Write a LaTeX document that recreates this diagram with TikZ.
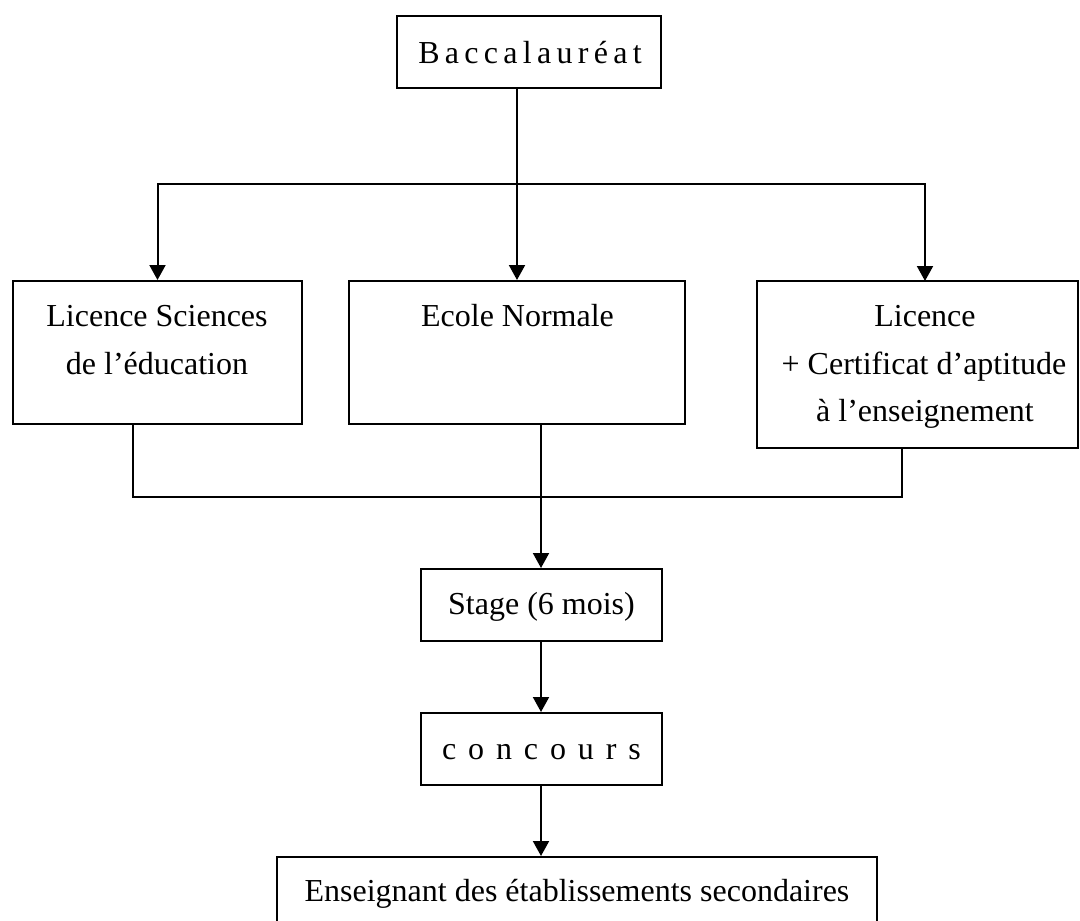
\documentclass[tikz,border=0pt]{standalone}
\usepackage{fontspec}
\setmainfont{Liberation Serif}
\usetikzlibrary{arrows.meta}
\newcommand\gapB{\hspace{5.3pt}}
\newcommand\gapC{\hspace{11.9pt}}
\begin{document}
\begin{tikzpicture}[x=1pt,y=-1pt,
  box/.style={draw, line width=2pt, inner sep=0pt},
  txt/.style={anchor=base, inner sep=0pt, font=\fontsize{32pt}{48pt}\selectfont},
  conn/.style={line width=2pt},
  arr/.style={line width=2pt, -{Triangle[length=15pt,width=16pt]}}]
\useasboundingbox (0,0) rectangle (1080,921);
\clip (0,0) rectangle (1080,921);
\fill[white] (0,0) rectangle (1080,921);

% boxes
\node[box, minimum width=264pt, minimum height=72pt] (bac) at (529,52) {};
\node[box, minimum width=289pt, minimum height=143pt] (lic) at (157.5,352.5) {};
\node[box, minimum width=336pt, minimum height=143pt] (ecole) at (517,352.5) {};
\node[box, minimum width=321pt, minimum height=167pt] (cert) at (917.5,364.5) {};
\node[box, minimum width=241pt, minimum height=72pt] (stage) at (541.5,605) {};
\node[box, minimum width=241pt, minimum height=72pt] (conc) at (541.5,749) {};
\node[box, minimum width=600pt, minimum height=103pt] (ens) at (577,908.5) {};

% texts
\node[txt] (bact) at (530,63.3) {B\gapB a\gapB c\gapB c\gapB a\gapB l\gapB a\gapB u\gapB r\gapB é\gapB a\gapB t};
\node[txt] (lic1) at (157,326.7) {Licence Sciences};
\node[txt] (lic2) at (157,374) {de l’éducation};
\node[txt] (ecolet) at (517.5,326.7) {Ecole Normale};
\node[txt] (cert1) at (925,326.7) {Licence};
\node[txt] (cert2) at (924,374) {+ Certificat d’aptitude};
\node[txt] (cert3) at (925,421.7) {à l’enseignement};
\node[txt] (staget) at (541.5,614.3) {Stage (6 mois)};
\node[txt] (conct) at (541.5,759) {c\gapC o\gapC n\gapC c\gapC o\gapC u\gapC r\gapC s};
\node[txt] (enst) at (577,901.5) {Enseignant des établissements secondaires};

% connector coordinates
\coordinate (split) at (517,184);
\coordinate (certin) at (925,281);
\coordinate (licout) at (133,424);
\coordinate (certout) at (902,448);
\coordinate (merge) at (541,497);

% connectors
\draw[arr] (ecole.north |- bac.south) -- (ecole.north);
\draw[arr] (split) -| (lic.north);
\draw[arr] (split) -| (certin);
\draw[conn] (licout) |- (merge) -| (certout);
\draw[arr] (merge |- ecole.south) -- (merge |- stage.north);
\draw[arr] (merge |- stage.south) -- (merge |- conc.north);
\draw[arr] (merge |- conc.south) -- (merge |- ens.north);
\end{tikzpicture}
\end{document}
